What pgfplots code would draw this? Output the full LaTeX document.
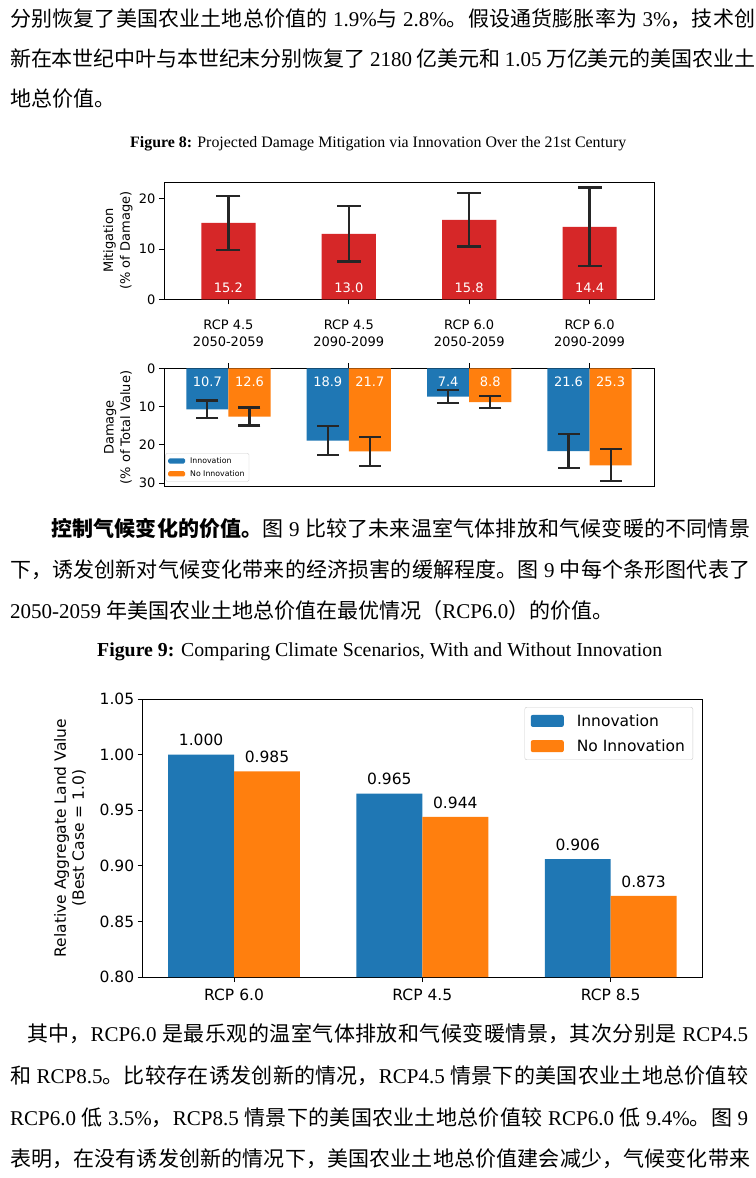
\documentclass[border=0pt]{standalone}
\usepackage{fontspec}
\usepackage{graphicx}
\usepackage{pgfplots}
\pgfplotsset{compat=1.18}
\setmainfont{Liberation Serif}
\newfontfamily\cjk{Noto Sans CJK SC}
\newfontfamily\dejavu{DejaVu Sans}
\XeTeXlinebreaklocale "zh"
\XeTeXlinebreakskip=0pt plus 3pt minus 0.3pt

\definecolor{tabblue}{HTML}{1F77B4}
\definecolor{taborange}{HTML}{FF7F0E}
\definecolor{tabred}{HTML}{D62728}
\definecolor{ebar}{HTML}{262626}

\newcommand\zh[1]{{\cjk #1}}
\newcommand\bodyfont{\fontsize{21bp}{25bp}\selectfont}
% one justified line of body text
\newcommand\jl[2]{\parbox[b]{#1}{\bodyfont\parfillskip=0pt\pretolerance=10000\tolerance=10000\noindent #2\par}}
\newcommand\bline[4]{\node[anchor=base west,inner sep=0pt] at (#1bp,-#2bp) {\jl{#3bp}{#4}};}
\newcommand\pline[3]{\node[anchor=base west,inner sep=0pt] at (#1bp,-#2bp) {\bodyfont #3};}

\newcommand\fsmall{\dejavu\fontsize{13bp}{16.6bp}\selectfont}
\newcommand\fbig{\dejavu\fontsize{15.5bp}{18bp}\selectfont}

% error bar: x, low, high
\newcommand\stem[3]{\addplot[forget plot,draw=ebar,line width=2.2bp] coordinates {(#1,#2) (#1,#3)};}

\pgfplotsset{
  mpl/.style={
    scale only axis,
    axis line style={line width=0.9bp},
    tick style={line width=0.9bp,black},
    tick align=outside,
    major tick length=5bp,
    /pgf/number format/assume math mode=true,
    ytick pos=left,
  },
}

\begin{document}
\begin{tikzpicture}
\fill[white] (0bp,0bp) rectangle (756bp,-1178bp);
\path[use as bounding box] (0bp,0bp) rectangle (756bp,-1178bp);

% ---- paragraph 1
\bline{10}{26.3}{745}{\zh{分别恢复了美国农业土地总价值的} 1.9\%\zh{与} 2.8\%\zh{。假设通货膨胀率为} 3\%\zh{，技术创}}
\bline{10}{66.3}{745}{\zh{新在本世纪中叶与本世纪末分别恢复了} 2180 \zh{亿美元和} 1.05 \zh{万亿美元的美国农业土}}
\pline{10}{106.3}{\zh{地总价值。}}

% ---- figure 8 title
\node[anchor=base west,inner sep=0pt] at (130bp,-147.5bp)
  {\resizebox{496bp}{!}{\textbf{Figure 8:} Projected Damage Mitigation via Innovation Over the 21st Century}};

% ---- top panel: mitigation
\begin{axis}[mpl,
  at={(164bp,-299.3bp)}, anchor=south west,
  width=490bp, height=117.3bp,
  xmin=-0.535, xmax=3.535, ymin=0, ymax=23.3,
  xtick={0,1,2,3}, xtick pos=left,
  xticklabels={RCP 4.5\\2050-2059,RCP 4.5\\2090-2099,RCP 6.0\\2050-2059,RCP 6.0\\2090-2099},
  xticklabel style={align=center,yshift=-12bp},
  ytick={0,10,20},
  ticklabel style={font=\fsmall},
  ylabel={Mitigation\\(\% of Damage)},
  ylabel style={font=\fsmall,align=center,at={(axis description cs:-0.094,0.5)},anchor=center},
]
\addplot[ybar,bar width=0.45,bar shift=0pt,fill=tabred,draw=none]
  coordinates {(0,15.2) (1,13.0) (2,15.8) (3,14.4)};
\stem{0}{9.85}{20.55}
\stem{1}{7.5}{18.5}
\stem{2}{10.5}{21.1}
\stem{3}{6.6}{22.2}
\addplot[forget plot,only marks,mark=-,mark size=12bp,mark options={draw=ebar,line width=2.2bp}]
  coordinates {(0,9.85) (0,20.55) (1,7.5) (1,18.5) (2,10.5) (2,21.1) (3,6.6) (3,22.2)};
\addplot[draw=none,nodes near coords,point meta=explicit symbolic,
  every node near coord/.append style={anchor=center,text=white,font=\fsmall}]
  coordinates {(0,2.24)[15.2] (1,2.24)[13.0] (2,2.24)[15.8] (3,2.24)[14.4]};
\end{axis}

% ---- bottom panel: damage
\begin{axis}[mpl,
  at={(164bp,-368.3bp)}, anchor=north west,
  width=490bp, height=118.4bp,
  xmin=-0.535, xmax=3.535, ymin=0, ymax=30.9, y dir=reverse,
  xtick={0,1,2,3}, xticklabels={}, xtick pos=right,
  ytick={0,10,20,30},
  ticklabel style={font=\fsmall},
  ylabel={Damage\\(\% of Total Value)},
  ylabel style={font=\fsmall,align=center,at={(axis description cs:-0.094,0.5)},anchor=center},
  legend style={at={(0.003,0.042)},anchor=south west,draw=black!20,rounded corners=1.5bp,
    font=\dejavu\fontsize{7.8bp}{9bp}\selectfont,inner xsep=2.5bp,inner ysep=2bp,row sep=1.5bp,
    /tikz/every odd column/.append style={column sep=3bp}},
  legend cell align=left,
]
\addplot[ybar,bar width=0.35,bar shift=0pt,fill=tabblue,draw=none,
  legend image code/.code={\fill[tabblue] (0bp,-2.6bp) rectangle (17bp,2.6bp);}]
  coordinates {(-0.175,10.7) (0.825,18.9) (1.825,7.4) (2.825,21.6)};
\addlegendentry{Innovation}
\addplot[ybar,bar width=0.35,bar shift=0pt,fill=taborange,draw=none,
  legend image code/.code={\fill[taborange] (0bp,-2.6bp) rectangle (17bp,2.6bp);}]
  coordinates {(0.175,12.6) (1.175,21.7) (2.175,8.8) (3.175,25.3)};
\addlegendentry{No Innovation}
\stem{-0.175}{8.4}{13.0}
\stem{0.825}{15.1}{22.7}
\stem{1.825}{5.75}{9.05}
\stem{2.825}{17.1}{26.1}
\stem{0.175}{10.25}{14.95}
\stem{1.175}{17.9}{25.5}
\stem{2.175}{7.15}{10.45}
\stem{3.175}{21.1}{29.5}
\addplot[forget plot,only marks,mark=-,mark size=11bp,mark options={draw=ebar,line width=2.2bp}]
  coordinates {(-0.175,8.4) (-0.175,13.0) (0.825,15.1) (0.825,22.7) (1.825,5.75) (1.825,9.05)
   (2.825,17.1) (2.825,26.1) (0.175,10.25) (0.175,14.95) (1.175,17.9) (1.175,25.5)
   (2.175,7.15) (2.175,10.45) (3.175,21.1) (3.175,29.5)};
\addplot[draw=none,forget plot,nodes near coords,point meta=explicit symbolic,
  every node near coord/.append style={anchor=center,text=white,font=\fsmall}]
  coordinates {(-0.175,3.45)[10.7] (0.825,3.45)[18.9] (1.825,3.45)[7.4] (2.825,3.45)[21.6]
               (0.175,3.45)[12.6] (1.175,3.45)[21.7] (2.175,3.45)[8.8] (3.175,3.45)[25.3]};
\end{axis}

% ---- paragraph 2
\bline{51}{536}{699}{\zh{\bfseries 控制气候变化的价值。}\zh{图} 9 \zh{比较了未来温室气体排放和气候变暖的不同情景}}
\bline{10}{577}{740}{\zh{下，诱发创新对气候变化带来的经济损害的缓解程度。图} 9 \zh{中每个条形图代表了}}
\pline{10}{618}{2050-2059 \zh{年美国农业土地总价值在最优情况（}RCP6.0\zh{）的价值。}}

% ---- figure 9 title
\node[anchor=base west,inner sep=0pt] at (97bp,-656.5bp)
  {\resizebox{565bp}{!}{\textbf{Figure 9:} Comparing Climate Scenarios, With and Without Innovation}};

% ---- figure 9 chart
\begin{axis}[mpl,
  at={(142.7bp,-977bp)}, anchor=south west,
  width=559.3bp, height=278bp,
  xmin=-0.485, xmax=2.485, ymin=0.80, ymax=1.05,
  xtick={0,1,2}, xtick pos=left,
  xticklabels={RCP 6.0,RCP 4.5,RCP 8.5},
  xticklabel style={yshift=-3bp},
  ytick={0.80,0.85,0.90,0.95,1.00,1.05},
  yticklabel style={/pgf/number format/.cd,fixed,fixed zerofill,precision=2},
  ticklabel style={font=\fbig},
  ylabel={Relative Aggregate Land Value\\(Best Case = 1.0)},
  ylabel style={font=\fbig,align=center,at={(axis description cs:-0.13,0.5)},anchor=center},
  legend style={at={(0.984,0.971)},anchor=north east,draw=black!20,rounded corners=2bp,
    font=\fbig,inner xsep=6bp,inner ysep=5bp,row sep=8bp,
    /tikz/every odd column/.append style={column sep=11bp}},
  legend cell align=left,
  every node near coord/.append style={anchor=base,yshift=8.75bp,font=\fbig,text=black},
]
\addplot[ybar,bar width=0.35,bar shift=0pt,fill=tabblue,draw=none,
  nodes near coords,point meta=explicit symbolic,
  legend image code/.code={\fill[tabblue] (0bp,-6bp) rectangle (33bp,6bp);}]
  coordinates {(-0.175,1.000)[1.000] (0.825,0.965)[0.965] (1.825,0.906)[0.906]};
\addlegendentry{Innovation}
\addplot[ybar,bar width=0.35,bar shift=0pt,fill=taborange,draw=none,
  nodes near coords,point meta=explicit symbolic,
  legend image code/.code={\fill[taborange] (0bp,-6bp) rectangle (33bp,6bp);}]
  coordinates {(0.175,0.985)[0.985] (1.175,0.944)[0.944] (2.175,0.873)[0.873]};
\addlegendentry{No Innovation}
\end{axis}

% ---- paragraph 3
\bline{27}{1041}{721}{\zh{其中，}RCP6.0 \zh{是最乐观的温室气体排放和气候变暖情景，其次分别是} RCP4.5}
\bline{10}{1083}{738}{\zh{和} RCP8.5\zh{。比较存在诱发创新的情况，}RCP4.5 \zh{情景下的美国农业土地总价值较}}
\bline{10}{1125}{738}{RCP6.0 \zh{低} 3.5\%\zh{，}RCP8.5 \zh{情景下的美国农业土地总价值较} RCP6.0 \zh{低} 9.4\%\zh{。图} 9}
\bline{10}{1166}{740}{\zh{表明，在没有诱发创新的情况下，美国农业土地总价值建会减少，气候变化带来}}
\end{tikzpicture}
\end{document}
